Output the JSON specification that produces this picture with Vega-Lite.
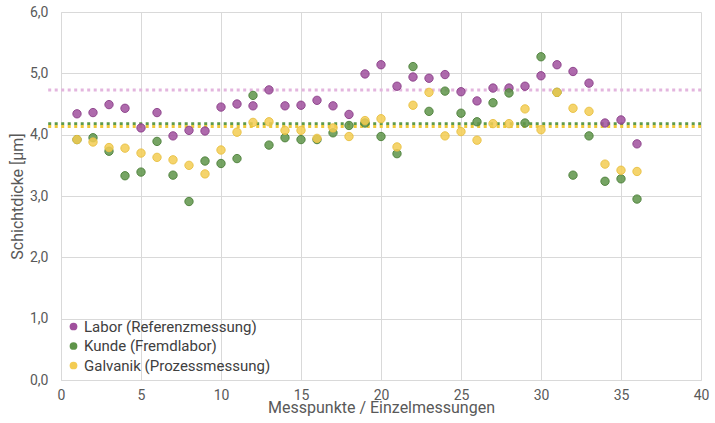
{
  "$schema": "https://vega.github.io/schema/vega-lite/v6.json",
  "width": 640,
  "height": 368,
  "autosize": {"type": "none"},
  "padding": {"left": 61, "top": 12, "right": 14, "bottom": 43},
  "background": "white",
  "datasets": {
    "avg": [
      {"series": "Labor (Referenzmessung)", "mean": 4.73},
      {"series": "Kunde (Fremdlabor)", "mean": 4.18},
      {"series": "Galvanik (Prozessmessung)", "mean": 4.135}
    ],
    "points": [
      {"x": 1, "series": "Labor (Referenzmessung)", "value": 4.34},
      {"x": 2, "series": "Labor (Referenzmessung)", "value": 4.36},
      {"x": 3, "series": "Labor (Referenzmessung)", "value": 4.49},
      {"x": 4, "series": "Labor (Referenzmessung)", "value": 4.43},
      {"x": 5, "series": "Labor (Referenzmessung)", "value": 4.11},
      {"x": 6, "series": "Labor (Referenzmessung)", "value": 4.36},
      {"x": 7, "series": "Labor (Referenzmessung)", "value": 3.98},
      {"x": 8, "series": "Labor (Referenzmessung)", "value": 4.07},
      {"x": 9, "series": "Labor (Referenzmessung)", "value": 4.06},
      {"x": 10, "series": "Labor (Referenzmessung)", "value": 4.45},
      {"x": 11, "series": "Labor (Referenzmessung)", "value": 4.5},
      {"x": 12, "series": "Labor (Referenzmessung)", "value": 4.47},
      {"x": 13, "series": "Labor (Referenzmessung)", "value": 4.73},
      {"x": 14, "series": "Labor (Referenzmessung)", "value": 4.47},
      {"x": 15, "series": "Labor (Referenzmessung)", "value": 4.48},
      {"x": 16, "series": "Labor (Referenzmessung)", "value": 4.56},
      {"x": 17, "series": "Labor (Referenzmessung)", "value": 4.47},
      {"x": 18, "series": "Labor (Referenzmessung)", "value": 4.33},
      {"x": 19, "series": "Labor (Referenzmessung)", "value": 4.99},
      {"x": 20, "series": "Labor (Referenzmessung)", "value": 5.14},
      {"x": 21, "series": "Labor (Referenzmessung)", "value": 4.79},
      {"x": 22, "series": "Labor (Referenzmessung)", "value": 4.94},
      {"x": 23, "series": "Labor (Referenzmessung)", "value": 4.92},
      {"x": 24, "series": "Labor (Referenzmessung)", "value": 4.98},
      {"x": 25, "series": "Labor (Referenzmessung)", "value": 4.7},
      {"x": 26, "series": "Labor (Referenzmessung)", "value": 4.55},
      {"x": 27, "series": "Labor (Referenzmessung)", "value": 4.76},
      {"x": 28, "series": "Labor (Referenzmessung)", "value": 4.76},
      {"x": 29, "series": "Labor (Referenzmessung)", "value": 4.79},
      {"x": 30, "series": "Labor (Referenzmessung)", "value": 4.96},
      {"x": 31, "series": "Labor (Referenzmessung)", "value": 5.14},
      {"x": 32, "series": "Labor (Referenzmessung)", "value": 5.03},
      {"x": 33, "series": "Labor (Referenzmessung)", "value": 4.84},
      {"x": 34, "series": "Labor (Referenzmessung)", "value": 4.19},
      {"x": 35, "series": "Labor (Referenzmessung)", "value": 4.24},
      {"x": 36, "series": "Labor (Referenzmessung)", "value": 3.85},
      {"x": 1, "series": "Kunde (Fremdlabor)", "value": 3.92},
      {"x": 2, "series": "Kunde (Fremdlabor)", "value": 3.95},
      {"x": 3, "series": "Kunde (Fremdlabor)", "value": 3.73},
      {"x": 4, "series": "Kunde (Fremdlabor)", "value": 3.33},
      {"x": 5, "series": "Kunde (Fremdlabor)", "value": 3.39},
      {"x": 6, "series": "Kunde (Fremdlabor)", "value": 3.89},
      {"x": 7, "series": "Kunde (Fremdlabor)", "value": 3.34},
      {"x": 8, "series": "Kunde (Fremdlabor)", "value": 2.91},
      {"x": 9, "series": "Kunde (Fremdlabor)", "value": 3.57},
      {"x": 10, "series": "Kunde (Fremdlabor)", "value": 3.53},
      {"x": 11, "series": "Kunde (Fremdlabor)", "value": 3.61},
      {"x": 12, "series": "Kunde (Fremdlabor)", "value": 4.64},
      {"x": 13, "series": "Kunde (Fremdlabor)", "value": 3.83},
      {"x": 14, "series": "Kunde (Fremdlabor)", "value": 3.95},
      {"x": 15, "series": "Kunde (Fremdlabor)", "value": 3.92},
      {"x": 16, "series": "Kunde (Fremdlabor)", "value": 3.92},
      {"x": 17, "series": "Kunde (Fremdlabor)", "value": 4.03},
      {"x": 18, "series": "Kunde (Fremdlabor)", "value": 4.15},
      {"x": 19, "series": "Kunde (Fremdlabor)", "value": 4.19},
      {"x": 20, "series": "Kunde (Fremdlabor)", "value": 3.97},
      {"x": 21, "series": "Kunde (Fremdlabor)", "value": 3.69},
      {"x": 22, "series": "Kunde (Fremdlabor)", "value": 5.11},
      {"x": 23, "series": "Kunde (Fremdlabor)", "value": 4.38},
      {"x": 24, "series": "Kunde (Fremdlabor)", "value": 4.71},
      {"x": 25, "series": "Kunde (Fremdlabor)", "value": 4.35},
      {"x": 26, "series": "Kunde (Fremdlabor)", "value": 4.21},
      {"x": 27, "series": "Kunde (Fremdlabor)", "value": 4.52},
      {"x": 28, "series": "Kunde (Fremdlabor)", "value": 4.68},
      {"x": 29, "series": "Kunde (Fremdlabor)", "value": 4.19},
      {"x": 30, "series": "Kunde (Fremdlabor)", "value": 5.27},
      {"x": 31, "series": "Kunde (Fremdlabor)", "value": 4.69},
      {"x": 32, "series": "Kunde (Fremdlabor)", "value": 3.34},
      {"x": 33, "series": "Kunde (Fremdlabor)", "value": 3.98},
      {"x": 34, "series": "Kunde (Fremdlabor)", "value": 3.24},
      {"x": 35, "series": "Kunde (Fremdlabor)", "value": 3.28},
      {"x": 36, "series": "Kunde (Fremdlabor)", "value": 2.95},
      {"x": 1, "series": "Galvanik (Prozessmessung)", "value": 3.92},
      {"x": 2, "series": "Galvanik (Prozessmessung)", "value": 3.88},
      {"x": 3, "series": "Galvanik (Prozessmessung)", "value": 3.79},
      {"x": 4, "series": "Galvanik (Prozessmessung)", "value": 3.78},
      {"x": 5, "series": "Galvanik (Prozessmessung)", "value": 3.7},
      {"x": 6, "series": "Galvanik (Prozessmessung)", "value": 3.63},
      {"x": 7, "series": "Galvanik (Prozessmessung)", "value": 3.59},
      {"x": 8, "series": "Galvanik (Prozessmessung)", "value": 3.5},
      {"x": 9, "series": "Galvanik (Prozessmessung)", "value": 3.36},
      {"x": 10, "series": "Galvanik (Prozessmessung)", "value": 3.75},
      {"x": 11, "series": "Galvanik (Prozessmessung)", "value": 4.04},
      {"x": 12, "series": "Galvanik (Prozessmessung)", "value": 4.2},
      {"x": 13, "series": "Galvanik (Prozessmessung)", "value": 4.21},
      {"x": 14, "series": "Galvanik (Prozessmessung)", "value": 4.07},
      {"x": 15, "series": "Galvanik (Prozessmessung)", "value": 4.07},
      {"x": 16, "series": "Galvanik (Prozessmessung)", "value": 3.94},
      {"x": 17, "series": "Galvanik (Prozessmessung)", "value": 4.11},
      {"x": 18, "series": "Galvanik (Prozessmessung)", "value": 3.97},
      {"x": 19, "series": "Galvanik (Prozessmessung)", "value": 4.23},
      {"x": 20, "series": "Galvanik (Prozessmessung)", "value": 4.26},
      {"x": 21, "series": "Galvanik (Prozessmessung)", "value": 3.8},
      {"x": 22, "series": "Galvanik (Prozessmessung)", "value": 4.48},
      {"x": 23, "series": "Galvanik (Prozessmessung)", "value": 4.69},
      {"x": 24, "series": "Galvanik (Prozessmessung)", "value": 3.98},
      {"x": 25, "series": "Galvanik (Prozessmessung)", "value": 4.05},
      {"x": 26, "series": "Galvanik (Prozessmessung)", "value": 3.91},
      {"x": 27, "series": "Galvanik (Prozessmessung)", "value": 4.18},
      {"x": 28, "series": "Galvanik (Prozessmessung)", "value": 4.18},
      {"x": 29, "series": "Galvanik (Prozessmessung)", "value": 4.42},
      {"x": 30, "series": "Galvanik (Prozessmessung)", "value": 4.08},
      {"x": 31, "series": "Galvanik (Prozessmessung)", "value": 4.69},
      {"x": 32, "series": "Galvanik (Prozessmessung)", "value": 4.43},
      {"x": 33, "series": "Galvanik (Prozessmessung)", "value": 4.38},
      {"x": 34, "series": "Galvanik (Prozessmessung)", "value": 3.52},
      {"x": 35, "series": "Galvanik (Prozessmessung)", "value": 3.42},
      {"x": 36, "series": "Galvanik (Prozessmessung)", "value": 3.4}
    ]
  },
  "layer": [
    {
      "data": {"name": "avg"},
      "mark": {"type": "rule", "strokeWidth": 3, "strokeDash": [3, 3.5], "clip": false},
      "encoding": {
        "x": {"datum": -0.8, "type": "quantitative"},
        "x2": {"datum": 40},
        "y": {"field": "mean", "type": "quantitative", "scale": {"domain": [0, 6]}},
        "color": {
          "field": "series",
          "type": "nominal",
          "scale": {
            "domain": ["Labor (Referenzmessung)", "Kunde (Fremdlabor)", "Galvanik (Prozessmessung)"],
            "range": ["#e3b5de", "#5e9a4a", "#f0c93c"]
          },
          "legend": null
        }
      }
    },
    {
      "data": {"name": "points"},
      "mark": {"type": "point", "shape": "circle", "filled": false, "size": 70, "strokeWidth": 1, "fillOpacity": 0.85, "strokeOpacity": 0.9},
      "encoding": {
        "x": {
          "field": "x",
          "type": "quantitative",
          "scale": {"domain": [0, 40], "nice": false},
          "axis": {
            "values": [0, 5, 10, 15, 20, 25, 30, 35, 40],
            "title": "Messpunkte / Einzelmessungen",
            "titlePadding": -3,
            "labelFlush": false
          }
        },
        "y": {
          "field": "value",
          "type": "quantitative",
          "scale": {"domain": [0, 6], "nice": false},
          "axis": {
            "values": [0, 1, 2, 3, 4, 5, 6],
            "labelExpr": "replace(format(datum.value, '.1f'), '.', ',')",
            "title": "Schichtdicke [µm]",
            "labelPadding": 13,
            "titlePadding": 4,
            "labelFlush": false
          }
        },
        "fill": {
          "field": "series",
          "type": "nominal",
          "sort": null,
          "scale": {
            "domain": ["Labor (Referenzmessung)", "Kunde (Fremdlabor)", "Galvanik (Prozessmessung)"],
            "range": ["#a0509d", "#5e9449", "#f3cc52"]
          },
          "legend": {
            "title": null,
            "orient": "none",
            "legendX": 5,
            "legendY": 307,
            "symbolType": "circle",
            "symbolSize": 60,
            "symbolStrokeWidth": 0,
            "labelFontSize": 15,
            "labelColor": "#404040",
            "labelFont": "Roboto",
            "labelLimit": 0,
            "rowPadding": 3.5,
            "labelOffset": 3
          }
        },
        "stroke": {
          "field": "series",
          "type": "nominal",
          "scale": {
            "domain": ["Labor (Referenzmessung)", "Kunde (Fremdlabor)", "Galvanik (Prozessmessung)"],
            "range": ["#8b3f88", "#4d7f3a", "#e8c043"]
          },
          "legend": null
        }
      }
    }
  ],
  "resolve": {"scale": {"color": "independent"}},
  "config": {
    "font": "Roboto",
    "view": {"stroke": null},
    "axis": {
      "grid": true,
      "gridColor": "#d9d9d9",
      "gridWidth": 1,
      "domainColor": "#d9d9d9",
      "ticks": false,
      "labelFontSize": 14,
      "labelColor": "#595959",
      "labelFont": "Roboto",
      "titleFont": "Roboto",
      "titleFontSize": 16,
      "titleFontWeight": "normal",
      "titleColor": "#595959"
    },
    "axisX": {"labelPadding": 8}
  }
}
